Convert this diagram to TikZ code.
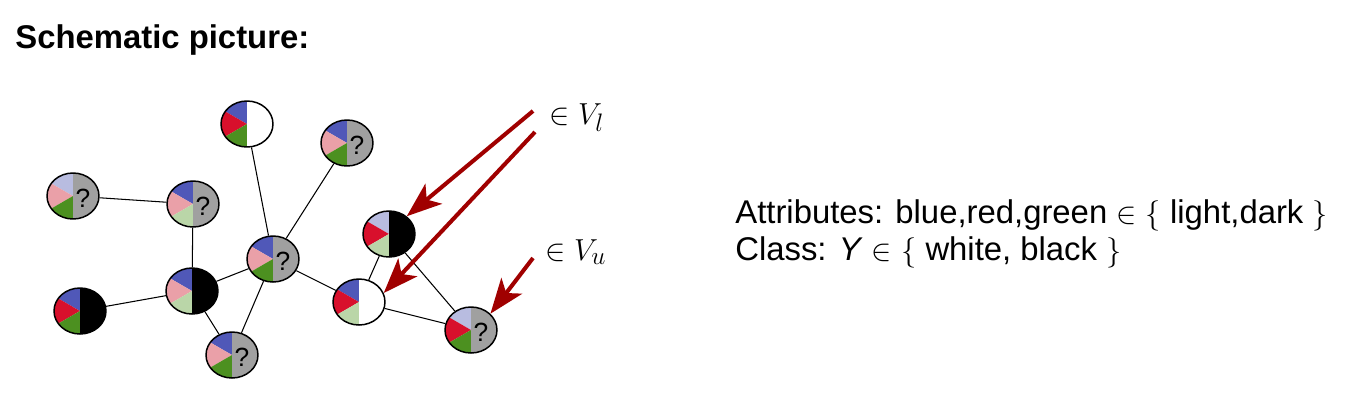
\documentclass[tikz,border=0pt]{standalone}
\usepackage{fontspec}
\setmainfont{Liberation Sans}
\usetikzlibrary{shapes.geometric,arrows.meta}

\definecolor{dkblue}{RGB}{80,88,184}
\definecolor{ltblue}{RGB}{184,188,224}
\definecolor{dkred}{RGB}{216,16,44}
\definecolor{ltred}{RGB}{234,160,168}
\definecolor{dkgreen}{RGB}{76,144,32}
\definecolor{ltgreen}{RGB}{186,214,168}
\definecolor{clsgray}{RGB}{160,160,160}
\definecolor{arrowred}{RGB}{160,0,0}

\tikzset{
  pienode/.style n args={5}{ellipse, draw, line width=0.85pt,
    minimum width=1.04cm, minimum height=0.92cm, inner sep=0pt,
    path picture={
      \fill[#1] (path picture bounding box.center) -- +(90:1cm) -- +(150:1cm) -- cycle;
      \fill[#2] (path picture bounding box.center) -- +(150:1cm) -- +(210:1cm) -- cycle;
      \fill[#3] (path picture bounding box.center) -- +(210:1cm) -- +(270:1cm) -- cycle;
      \fill[#4] (path picture bounding box.north) rectangle (path picture bounding box.south east);
      \node[font=\fontsize{15}{17}\selectfont, inner sep=0pt]
        at ([xshift=0.2cm, yshift=-0.05cm]path picture bounding box.center) {#5};
    }},
  edge/.style={line width=0.6pt},
  pointer/.style={arrowred, line width=2.3pt,
    -{Stealth[length=0.7cm, width=0.52cm, inset=0.18cm]}}
}

\begin{document}
\begin{tikzpicture}[x=0.02cm, y=0.02cm]
  \useasboundingbox (0,0) rectangle (1350,414);
  % title
  \node[anchor=base west, inner sep=0pt, font=\fontsize{18.7}{22}\selectfont\bfseries] (title) at (15,366) {Schematic picture:};
  % draw the attribute pies
  \node[pienode={dkblue}{dkred}{dkgreen}{white}{}] (v1) at (247,290) {};
  \node[pienode={ltblue}{ltred}{dkgreen}{clsgray}{?}] (v2) at (73,218) {};
  \node[pienode={dkblue}{ltred}{ltgreen}{clsgray}{?}] (v3) at (193,210) {};
  \node[pienode={dkblue}{dkred}{dkgreen}{black}{}] (v4) at (80,103) {};
  \node[pienode={dkblue}{ltred}{ltgreen}{black}{}] (v5) at (192,123) {};
  \node[pienode={dkblue}{ltred}{dkgreen}{clsgray}{?}] (v6) at (273,155) {};
  \node[pienode={dkblue}{ltred}{dkgreen}{clsgray}{?}] (v7) at (232,59) {};
  \node[pienode={dkblue}{ltred}{dkgreen}{clsgray}{?}] (v8) at (347,271) {};
  \node[pienode={ltblue}{dkred}{ltgreen}{black}{}] (v9) at (389,180) {};
  \node[pienode={dkblue}{dkred}{ltgreen}{white}{}] (v10) at (359,112) {};
  \node[pienode={ltblue}{dkred}{dkgreen}{clsgray}{?}] (v11) at (471,84) {};
  % draw the links
  \draw[edge] (v2) -- (v3);
  \draw[edge] (v3) -- (v5);
  \draw[edge] (v4) -- (v5);
  \draw[edge] (v5) -- (v6);
  \draw[edge] (v5) -- (v7);
  \draw[edge] (v6) -- (v7);
  \draw[edge] (v6) -- (v1);
  \draw[edge] (v6) -- (v8);
  \draw[edge] (v6) -- (v10);
  \draw[edge] (v10) -- (v9);
  \draw[edge] (v9) -- (v11);
  \draw[edge] (v10) -- (v11);
  % labelled / unlabelled pointers
  \coordinate (lab_a) at (533,303);
  \coordinate (lab_b) at (535,282);
  \coordinate (unl_a) at (533,156);
  \draw[pointer] (lab_a) -- (v9.45);
  \draw[pointer] (lab_b) -- (v10.20);
  \draw[pointer] (unl_a) -- (v11.40);
  \node[anchor=base west, inner sep=0pt, font=\fontsize{19}{22}\selectfont] (set_l) at (549,290) {$\in V_l$};
  \node[anchor=base west, inner sep=0pt, font=\fontsize{19}{22}\selectfont] (set_u) at (545,154) {$\in V_u$};
  % legend
  \node[anchor=base west, inner sep=0pt, font=\fontsize{18.7}{22}\selectfont] (attr) at (735,191) {Attributes: blue,red,green $\in$ $\{$ light,dark $\}$};
  \node[anchor=base west, inner sep=0pt, font=\fontsize{18.7}{22}\selectfont] (cls) at (735,154) {Class: \textit{Y} $\in$ $\{$ white, black $\}$};
\end{tikzpicture}
\end{document}
